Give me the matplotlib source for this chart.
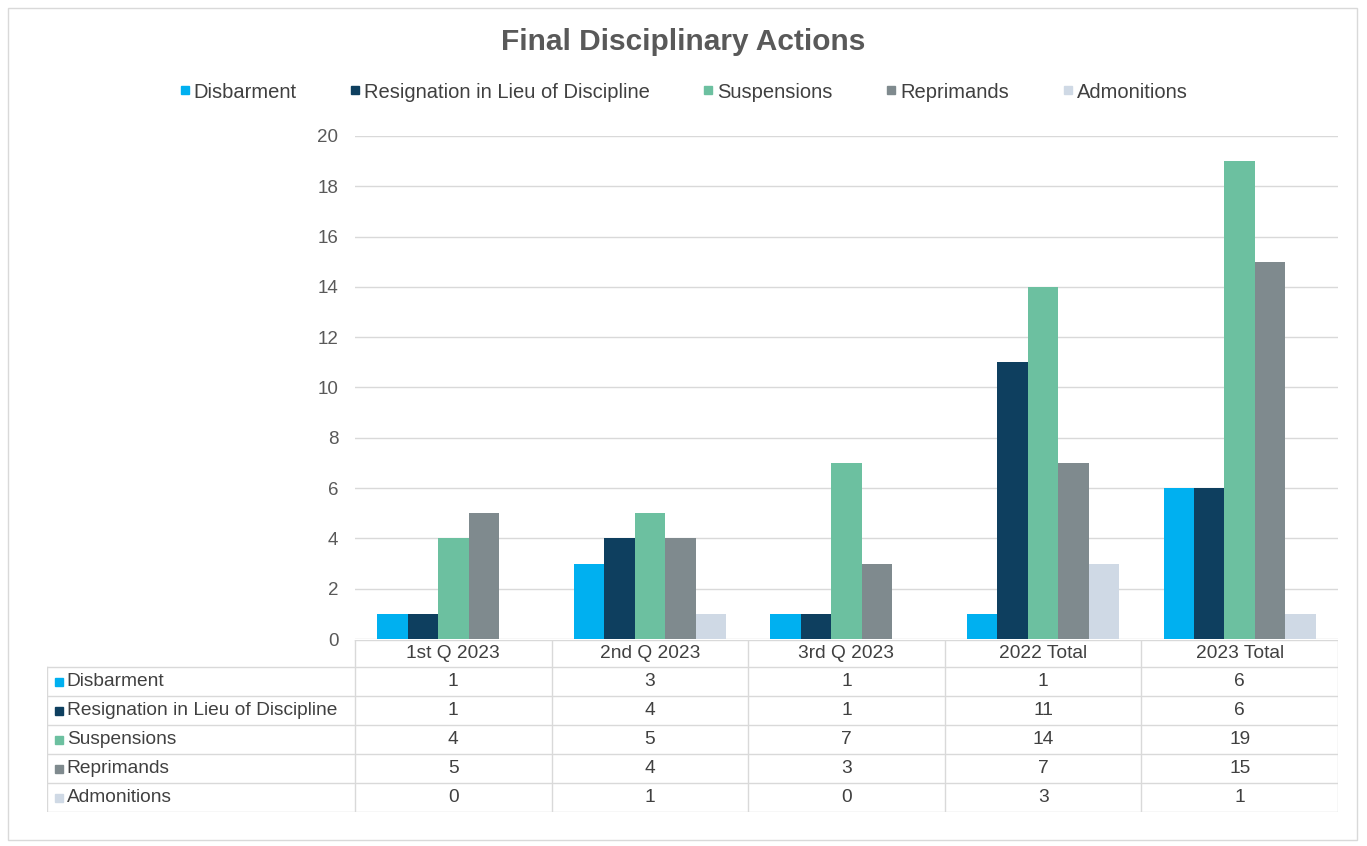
import matplotlib.pyplot as plt
from matplotlib.lines import Line2D
from matplotlib.patches import Rectangle
import numpy as np

plt.rcParams['font.family'] = ['Liberation Sans', 'DejaVu Sans']

categories = ["1st Q 2023", "2nd Q 2023", "3rd Q 2023", "2022 Total", "2023 Total"]
series = ["Disbarment", "Resignation in Lieu of Discipline", "Suspensions",
          "Reprimands", "Admonitions"]
disbarment = [1, 3, 1, 1, 6]
resignation = [1, 4, 1, 11, 6]
suspensions = [4, 5, 7, 14, 19]
reprimands = [5, 4, 3, 7, 15]
admonitions = [0, 1, 0, 3, 1]
values = [disbarment, resignation, suspensions, reprimands, admonitions]
colors = ["#00B0F0", "#0E3F5F", "#6CC0A0", "#7F8A8E", "#CFD9E5"]

W, H = 1367, 846
fig = plt.figure(figsize=(W / 100, H / 100), dpi=100)

# outer frame
fig.add_artist(Rectangle((8 / W, 6 / H), 1349 / W, 832 / H, transform=fig.transFigure,
                         fill=False, edgecolor="#D9D9D9", lw=1))

# bar area
left, right, top, bottom = 355, 1338, 136, 639
ax = fig.add_axes([left / W, 1 - bottom / H, (right - left) / W, (bottom - top) / H])
x = np.arange(len(categories))
bw = 0.155
for i, (name, vals) in enumerate(zip(series, values)):
    ax.bar(x + (i - 2) * bw, vals, bw, color=colors[i], label=name, zorder=3)

ax.set_xlim(-0.5, len(categories) - 0.5)
ax.set_ylim(0, 20)
ax.set_yticks(range(0, 21, 2))
ax.set_xticks([])
ax.tick_params(axis='y', length=0, pad=12, labelsize=13.5, labelcolor="#595959")
ax.grid(axis='y', color="#D9D9D9", lw=1, zorder=0)
for s in ax.spines.values():
    s.set_visible(False)

fig.text(0.5, 1 - 42 / H, "Final Disciplinary Actions", ha='center', va='center',
         fontsize=21.5, fontweight='bold', color="#595959")

handles = [Line2D([], [], marker='s', ls='', color=c, markersize=6) for c in colors]
fig.legend(handles, series, loc='center', bbox_to_anchor=(0.5, 1 - 92 / H), ncol=5,
           frameon=False, fontsize=14.5, handlelength=0.5, handletextpad=0.2,
           columnspacing=2.65, labelcolor="#404040")

# data table below the bars
tleft, ttop, tbottom = 47, 640, 812
tab = fig.add_axes([tleft / W, 1 - tbottom / H, (right - tleft) / W, (tbottom - ttop) / H])
label_w = (left - tleft) / ((right - left) / len(categories))
x0 = -0.5 - label_w
x1 = len(categories) - 0.5
head = 27 / 29
n = len(series)
tab.set_xlim(x0, x1)
tab.set_ylim(n + head, 0)
tab.axis('off')

lc = "#D9D9D9"
tab.plot([-0.5, x1], [0, 0], color=lc, lw=1)
for r in range(n + 1):
    y = head + r
    tab.plot([x0, x1], [y, y], color=lc, lw=1)
tab.plot([x0, x0], [head, n + head], color=lc, lw=1)
for c in range(len(categories) + 1):
    tab.plot([c - 0.5, c - 0.5], [0, n + head], color=lc, lw=1)

fs = 13.8
for c, cat in enumerate(categories):
    tab.text(c, head / 2, cat, ha='center', va='center', fontsize=fs, color="#404040")
for r, name in enumerate(series):
    yc = head + r + 0.5
    tab.plot([x0 + 0.06], [yc], marker='s', markersize=6, color=colors[r], ls='')
    tab.text(x0 + 0.1, yc, name, ha='left', va='center', fontsize=fs, color="#404040")
    for c in range(len(categories)):
        tab.text(c, yc, str(values[r][c]), ha='center', va='center', fontsize=fs,
                 color="#404040")

fig.savefig("out.png", dpi=100)
